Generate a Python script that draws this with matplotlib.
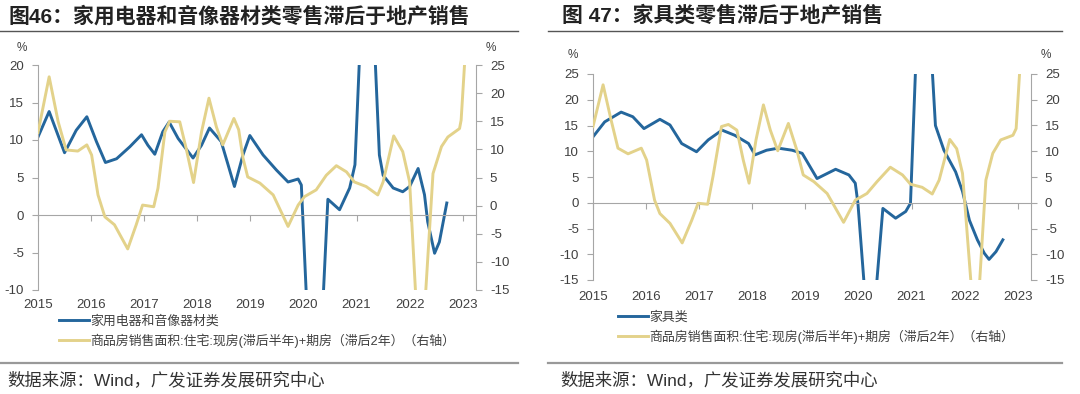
import numpy as np
import matplotlib.pyplot as plt
from matplotlib.lines import Line2D

plt.rcParams['font.family'] = ['Liberation Sans', 'Noto Sans CJK SC']
plt.rcParams['axes.unicode_minus'] = False

# 图46: 家用电器和音像器材类 (left axis, %)
appl_x = [2015.00, 2015.21, 2015.50, 2015.72, 2015.92, 2016.10, 2016.27, 2016.48, 2016.73, 2016.95,
          2017.07, 2017.20, 2017.35, 2017.47, 2017.64, 2017.92, 2018.08, 2018.23, 2018.45, 2018.58,
          2018.70, 2018.86, 2018.99, 2019.24, 2019.49, 2019.71, 2019.90, 2019.96, 2020.21, 2020.46,
          2020.68, 2020.87, 2020.97, 2021.20, 2021.43, 2021.50, 2021.69, 2021.87, 2022.00, 2022.16,
          2022.28, 2022.34, 2022.47, 2022.56, 2022.70]
appl_y = [10.4, 13.8, 8.3, 11.3, 13.1, 9.8, 7.0, 7.5, 9.1, 10.7,
          9.3, 8.1, 11.1, 12.4, 10.2, 7.6, 9.3, 11.6, 9.8, 6.7,
          3.8, 8.0, 10.6, 8.0, 6.0, 4.4, 4.8, 4.0, -35, 2.1,
          0.7, 3.6, 6.7, 45, 8.0, 5.3, 3.6, 3.1, 3.8, 6.2,
          2.7, -0.9, -5.1, -3.6, 1.6]

# 商品房销售面积 (right axis, %), panel 46
house1_x = [2015.00, 2015.21, 2015.38, 2015.53, 2015.75, 2015.92, 2016.01, 2016.13, 2016.26, 2016.44,
            2016.69, 2016.85, 2016.97, 2017.18, 2017.26, 2017.39, 2017.48, 2017.67, 2017.79, 2017.93,
            2018.08, 2018.22, 2018.36, 2018.48, 2018.69, 2018.78, 2018.86, 2018.95, 2019.18, 2019.43,
            2019.71, 2019.90, 2020.02, 2020.24, 2020.43, 2020.62, 2020.81, 2020.96, 2021.18, 2021.40,
            2021.50, 2021.70, 2021.87, 2022.00, 2022.20, 2022.44, 2022.60, 2022.72, 2022.94, 2022.97,
            2023.04]
house1_y = [13.0, 22.9, 14.9, 9.9, 9.7, 10.8, 9.0, 1.9, -2.0, -3.4,
            -7.7, -3.4, 0.1, -0.2, 3.1, 13.1, 15.0, 14.9, 10.2, 4.1,
            13.1, 19.1, 14.0, 10.8, 15.5, 13.5, 8.5, 5.1, 4.0, 1.9,
            -3.7, 0.1, 1.6, 2.8, 5.4, 7.1, 6.0, 4.2, 3.4, 1.9,
            4.2, 12.4, 9.6, 4.2, -31, 5.7, 10.5, 12.2, 13.7, 15.2,
            26]

# 图47: 家具类 (left axis, %)
furn_x = [2015.00, 2015.22, 2015.53, 2015.75, 2015.96, 2016.26, 2016.45, 2016.67, 2016.95, 2017.17,
          2017.43, 2017.67, 2017.93, 2018.05, 2018.27, 2018.49, 2018.75, 2018.94, 2019.22, 2019.57,
          2019.82, 2019.94, 2019.99, 2020.22, 2020.46, 2020.70, 2020.89, 2020.98, 2021.20, 2021.45,
          2021.61, 2021.83, 2021.96, 2022.09, 2022.24, 2022.37, 2022.46, 2022.59, 2022.72]
furn_y = [12.8, 15.7, 17.6, 16.7, 14.4, 16.2, 15.1, 11.5, 9.9, 12.2,
          14.1, 13.1, 11.5, 9.3, 10.2, 10.6, 10.2, 9.6, 4.7, 6.5,
          5.4, 3.8, -0.1, -31, -1.1, -3.0, -1.7, -0.1, 60, 15,
          10.2, 6.0, 2.2, -3.4, -7.2, -9.8, -11.0, -9.5, -7.2]

# 商品房销售面积 (right axis, %), panel 47
house2_x = [2015.00, 2015.19, 2015.34, 2015.47, 2015.66, 2015.91, 2016.01, 2016.16, 2016.26, 2016.45,
            2016.68, 2016.86, 2016.98, 2017.16, 2017.26, 2017.42, 2017.55, 2017.71, 2017.83, 2017.94,
            2018.07, 2018.21, 2018.34, 2018.48, 2018.68, 2018.84, 2018.96, 2019.16, 2019.41, 2019.72,
            2019.94, 2020.16, 2020.35, 2020.60, 2020.83, 2020.98, 2021.20, 2021.39, 2021.52, 2021.72,
            2021.85, 2021.96, 2022.21, 2022.40, 2022.53, 2022.68, 2022.91, 2022.97, 2023.04]
house2_y = [14.8, 22.9, 16.1, 10.6, 9.5, 10.6, 8.3, 0.5, -2.1, -4.0,
            -7.8, -3.4, -0.1, -0.3, 5.1, 14.8, 15.2, 14.1, 8.3, 3.8,
            12.2, 19.0, 14.1, 10.1, 15.4, 10.2, 5.4, 4.1, 1.8, -3.8,
            0.5, 1.8, 4.1, 6.9, 5.4, 3.6, 3.0, 1.7, 4.4, 12.3,
            10.5, 5.7, -27.6, 4.4, 9.6, 12.2, 13.1, 14.4, 26]

years = list(range(2015, 2024))
house_label = '商品房销售面积:住宅:现房(滞后半年)+期房（滞后2年）（右轴）'
title1 = '图46：家用电器和音像器材类零售滞后于地产销售'
title2 = '图 47：家具类零售滞后于地产销售'
source = '数据来源：Wind，广发证券发展研究中心'

BLUE = '#24669C'
GOLD = '#E3D28A'
AXC = '#a6a6a6'
TXT = '#404040'

W, H = 1080, 394
fig = plt.figure(figsize=(W / 100, H / 100), dpi=100)


def px(x, y):
    return x / W, 1 - y / H


def draw_panel(box, bx, by, hx, hy, llim, rlim, blue_label, lab_off, leg_xy):
    x0, y0, x1, y1 = box
    ax = fig.add_axes([x0 / W, 1 - y1 / H, (x1 - x0) / W, (y1 - y0) / H])
    ax2 = ax.twinx()
    l1, = ax.plot(bx, by, color=BLUE, lw=2.1, solid_joinstyle='round', label=blue_label)
    l2, = ax2.plot(hx, hy, color=GOLD, lw=2.1, solid_joinstyle='round', label=house_label)
    ax.set_xlim(2015, 2023.25)
    ax.set_ylim(*llim)
    ax2.set_ylim(*rlim)
    ax.set_yticks(np.arange(llim[0], llim[1] + 1, 5))
    ax2.set_yticks(np.arange(rlim[0], rlim[1] + 1, 5))
    for s in ['top', 'right']:
        ax.spines[s].set_visible(False)
    for s in ['top', 'left', 'bottom']:
        ax2.spines[s].set_visible(False)
    ax.spines['left'].set_color(AXC)
    ax2.spines['right'].set_color(AXC)
    ax.spines['bottom'].set_position(('data', 0))
    ax.spines['bottom'].set_color(AXC)
    ax.set_xticks(years)
    ax.tick_params(axis='x', direction='out', length=4, color=AXC, labelbottom=False)
    ax.tick_params(axis='y', direction='out', length=4, color=AXC, labelsize=9.5,
                   labelcolor=TXT, pad=6)
    ax2.tick_params(axis='y', direction='out', length=4, color=AXC, labelsize=9.5,
                    labelcolor=TXT, pad=6)
    for yr in years:
        ax.text(yr, lab_off, str(yr), transform=ax.get_xaxis_transform(),
                ha='center', va='center', fontsize=9.5, color=TXT)
    ax.legend(handles=[l1, l2], loc='upper left', bbox_to_anchor=px(*leg_xy),
              bbox_transform=fig.transFigure, frameon=False, fontsize=9.3,
              handlelength=2.3, handletextpad=0.15, borderpad=0, borderaxespad=0,
              labelspacing=0.45, labelcolor=TXT)
    return ax, ax2


draw_panel((38, 65, 476, 290), appl_x, appl_y, house1_x, house1_y,
           (-10, 20), (-15, 25), '家用电器和音像器材类', -0.067, (59, 315))
draw_panel((593, 74, 1031, 280), furn_x, furn_y, house2_x, house2_y,
           (-15, 25), (-15, 25), '家具类', -0.083, (618, 311))

# percent signs
for (x, y) in [(22, 48), (491, 48), (573, 55), (1046, 55)]:
    fig.text(*px(x, y), '%', fontsize=8.5, color=TXT, ha='center', va='center')

# titles, rules and source lines
fig.text(*px(8, 16), title1, fontsize=15, weight='bold', color='#222222', va='center')
fig.text(*px(562, 16), title2, fontsize=15, weight='bold', color='#222222', va='center')
for (a, b) in [(0, 518), (548, 1062)]:
    fig.add_artist(Line2D([a / W, b / W], [1 - 31 / H] * 2, color='#555555', lw=1.0))
    fig.add_artist(Line2D([a / W, b / W], [1 - 363 / H] * 2, color='#999999', lw=1.6))
fig.text(*px(7, 380), source, fontsize=12.5, color='#333333', va='center')
fig.text(*px(560, 380), source, fontsize=12.5, color='#333333', va='center')

fig.savefig('out.png', dpi=100, facecolor='white')
